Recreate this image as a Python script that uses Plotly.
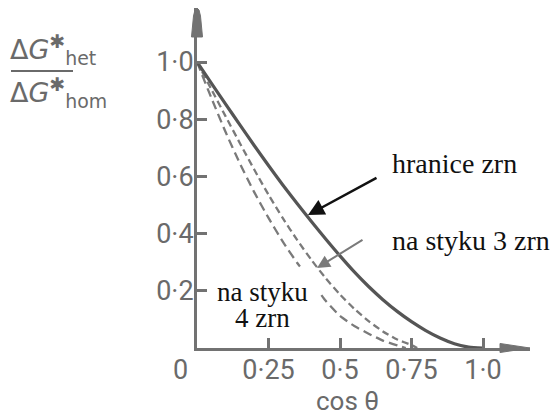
import plotly.graph_objects as go

# ---------------- data ----------------
cos_gb = [0.0, 0.05, 0.1, 0.15, 0.2, 0.25, 0.3, 0.35, 0.4, 0.45, 0.5, 0.55,
          0.6, 0.65, 0.7, 0.75, 0.8, 0.85, 0.9, 0.95, 1.0]
ratio_gb = [1.0, 0.926, 0.853, 0.780, 0.708, 0.638, 0.570, 0.505, 0.442, 0.381,
            0.322, 0.266, 0.215, 0.169, 0.128, 0.092, 0.061, 0.035, 0.015, 0.003, 0.0]

cos_edge = [0.0, 0.05, 0.1, 0.15, 0.2, 0.25, 0.3, 0.35, 0.4, 0.45, 0.5, 0.55,
            0.6, 0.65, 0.7, 0.75, 0.77]
ratio_edge = [1.0, 0.905, 0.81, 0.716, 0.624, 0.536, 0.454, 0.378, 0.308, 0.244,
              0.187, 0.137, 0.094, 0.058, 0.030, 0.010, 0.0]

# part of the 4-grain curve is hidden behind its label in the original
cos_corner = [0.0, 0.05, 0.1, 0.15, 0.2, 0.25, 0.3, 0.35, 0.36, 0.4,
              0.435, 0.45, 0.5, 0.55, 0.6, 0.65, 0.7, 0.73]
ratio_corner = [1.0, 0.875, 0.755, 0.645, 0.545, 0.455, 0.372, 0.298, 0.285, None,
                0.185, 0.165, 0.112, 0.077, 0.050, 0.026, 0.009, 0.0]

x_tick_vals = [0.25, 0.5, 0.75, 1.0]
x_tick_text = ["0·25", "0·5", "0·75", "1·0"]
y_tick_vals = [0.2, 0.4, 0.6, 0.8, 1.0]
y_tick_text = ["0·2", "0·4", "0·6", "0·8", "1·0"]

label_gb = "hranice zrn"
label_edge = "na styku 3 zrn"
label_corner_lines = ["na styku", "4 zrn"]
x_title = "cos θ"
y_title_num = "Δ<i>G</i><sup><b>✱</b></sup><sub>het</sub>"
y_title_den = "Δ<i>G</i><sup><b>✱</b></sup><sub>hom</sub>"

# ---------------- layout geometry ----------------
FW, FH = 554, 415
L, R, T, B = 197, 24, 8, 67
PW, PH = FW - L - R, FH - T - B
UNIT = 286.0  # pixels per data unit (both axes)

def pxx(px):
    return (px - L) / PW

def pxy(py):
    return (FH - B - py) / PH

def dx(px):
    return (px - L) / UNIT

def dy(py):
    return (FH - B - py) / UNIT

AX = "#727272"
TXT = "#6a6a6a"
SERIF = "Liberation Serif, Times New Roman, Tinos, DejaVu Serif, serif"

fig = go.Figure()
fig.add_trace(go.Scatter(x=cos_corner, y=ratio_corner, mode="lines",
                         line=dict(color="#7a7a7a", width=2.3, dash="9px,5px",
                                   shape="spline", smoothing=0.6, simplify=False),
                         connectgaps=False, hoverinfo="skip"))
fig.add_trace(go.Scatter(x=cos_edge, y=ratio_edge, mode="lines",
                         line=dict(color="#7a7a7a", width=2.3, dash="7px,4px",
                                   shape="spline", smoothing=0.6, simplify=False),
                         hoverinfo="skip"))
fig.add_trace(go.Scatter(x=cos_gb, y=ratio_gb, mode="lines",
                         line=dict(color="#555555", width=3.2,
                                   shape="spline", smoothing=0.6, simplify=False),
                         hoverinfo="skip"))

tick_font = dict(family="Roboto", size=27, color=TXT)
fig.update_layout(
    width=FW, height=FH,
    margin=dict(l=L, r=R, t=T, b=B, pad=0),
    paper_bgcolor="white", plot_bgcolor="white",
    showlegend=False,
    xaxis=dict(range=[0, PW / UNIT], showgrid=False, zeroline=False,
               showline=True, linecolor=AX, linewidth=3,
               tickvals=x_tick_vals, ticktext=x_tick_text,
               ticks="inside", ticklen=10, tickwidth=2.5, tickcolor=AX,
               tickfont=tick_font, ticklabelstandoff=-4),
    yaxis=dict(range=[0, PH / UNIT], showgrid=False, zeroline=False,
               showline=True, linecolor=AX, linewidth=3,
               tickvals=y_tick_vals, ticktext=y_tick_text,
               ticks="inside", ticklen=10, tickwidth=2.5, tickcolor=AX,
               tickfont=tick_font, ticklabelstandoff=-5),
)

def path(points):
    s = "M " + " L ".join(f"{pxx(a):.5f},{pxy(b):.5f}" for a, b in points) + " Z"
    return s

# axis arrowheads
fig.add_shape(type="path", xref="paper", yref="paper", layer="above",
              path=path([(191.5, 37), (193.5, 16), (195, 10), (197, 8), (199, 10),
                         (200.5, 16), (202.5, 37)]),
              fillcolor=AX, line=dict(color=AX, width=1))
fig.add_shape(type="path", xref="paper", yref="paper", layer="above",
              path=path([(500, 343.5), (530, 348), (500, 352.5)]),
              fillcolor=AX, line=dict(color=AX, width=1))

# origin label
fig.add_annotation(text="0", xref="paper", yref="paper", x=pxx(180), y=pxy(370),
                   showarrow=False, font=tick_font, xanchor="center", yanchor="middle")
# x title
fig.add_annotation(text=x_title, xref="paper", yref="paper", x=pxx(347), y=pxy(401),
                   showarrow=False, font=dict(family="Roboto", size=26, color=TXT),
                   xanchor="center", yanchor="middle")

# y title as a fraction
yl_font = dict(family="DejaVu Sans", size=27, color=TXT)
fig.add_annotation(text=y_title_num, xref="paper", yref="paper", x=pxx(9), y=pxy(70),
                   showarrow=False, font=yl_font, xanchor="left", yanchor="bottom",
                   borderpad=0)
fig.add_shape(type="line", xref="paper", yref="paper",
              x0=pxx(11), x1=pxx(73), y0=pxy(71), y1=pxy(71),
              line=dict(color=TXT, width=2))
fig.add_annotation(text=y_title_den, xref="paper", yref="paper", x=pxx(9), y=pxy(72),
                   showarrow=False, font=yl_font, xanchor="left", yanchor="top",
                   borderpad=0)

# curve labels and arrows
serif = dict(family=SERIF, size=28, color="#111111")
fig.add_annotation(text=label_gb, xref="paper", yref="paper", x=pxx(454), y=pxy(163),
                   showarrow=False, font=serif, xanchor="center", yanchor="middle")
fig.add_annotation(text="", x=dx(308), y=dy(215), ax=70, ay=-38,
                   showarrow=True, arrowhead=2, arrowsize=1.3, arrowwidth=2.5,
                   arrowcolor="#111111")
fig.add_annotation(text=label_edge, xref="paper", yref="paper", x=pxx(471), y=pxy(240),
                   showarrow=False, font=serif, xanchor="center", yanchor="middle")
fig.add_annotation(text="", x=dx(317), y=dy(268), ax=47, ay=-29,
                   showarrow=True, arrowhead=2, arrowsize=1.3, arrowwidth=2,
                   arrowcolor="#7a7a7a")
serif27 = dict(family=SERIF, size=27, color="#111111")
fig.add_annotation(text=label_corner_lines[0], xref="paper", yref="paper",
                   x=pxx(262), y=pxy(292), showarrow=False, font=serif27,
                   xanchor="center", yanchor="middle")
fig.add_annotation(text=label_corner_lines[1], xref="paper", yref="paper",
                   x=pxx(262), y=pxy(318), showarrow=False, font=serif27,
                   xanchor="center", yanchor="middle")

fig.write_html("out.html")
